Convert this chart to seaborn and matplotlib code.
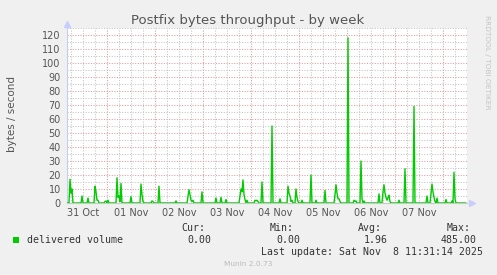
import numpy as np
import pandas as pd
import matplotlib
matplotlib.use("Agg")
import matplotlib.pyplot as plt
import matplotlib.dates as mdates
import seaborn as sns

# ---------------- data ----------------
spike_times = [
    "2025-10-31 05:30", "2025-10-31 06:00", "2025-10-31 06:30",
    "2025-10-31 11:30", "2025-10-31 14:30",
    "2025-10-31 18:00", "2025-10-31 18:30", "2025-10-31 19:00", "2025-10-31 19:30",
    "2025-10-31 23:00", "2025-10-31 23:30", "2025-11-01 00:30",
    "2025-11-01 05:00", "2025-11-01 05:30", "2025-11-01 06:00", "2025-11-01 06:30", "2025-11-01 07:00",
    "2025-11-01 12:00",
    "2025-11-01 17:00", "2025-11-01 17:30", "2025-11-01 18:00",
    "2025-11-01 22:30", "2025-11-01 23:00",
    "2025-11-02 02:00", "2025-11-02 10:30",
    "2025-11-02 16:30", "2025-11-02 17:00", "2025-11-02 17:30", "2025-11-02 18:00",
    "2025-11-02 18:30", "2025-11-02 19:00",
    "2025-11-02 23:30",
    "2025-11-03 06:30", "2025-11-03 09:00", "2025-11-03 11:30",
    "2025-11-03 18:30", "2025-11-03 19:00", "2025-11-03 19:30", "2025-11-03 20:00",
    "2025-11-03 20:30", "2025-11-03 21:00", "2025-11-03 22:00",
    "2025-11-04 02:00", "2025-11-04 02:30", "2025-11-04 03:00", "2025-11-04 03:30",
    "2025-11-04 05:30", "2025-11-04 10:30", "2025-11-04 14:30",
    "2025-11-04 18:30", "2025-11-04 19:00", "2025-11-04 19:30", "2025-11-04 20:00", "2025-11-04 20:30",
    "2025-11-04 22:30", "2025-11-04 23:00", "2025-11-04 23:30",
    "2025-11-05 01:30", "2025-11-05 06:00", "2025-11-05 08:30", "2025-11-05 13:00",
    "2025-11-05 18:00", "2025-11-05 18:30", "2025-11-05 19:00", "2025-11-05 19:30",
    "2025-11-05 20:00", "2025-11-05 20:30",
    "2025-11-06 00:30",
    "2025-11-06 03:30", "2025-11-06 04:00", "2025-11-06 04:30",
    "2025-11-06 07:00", "2025-11-06 07:30", "2025-11-06 08:30",
    "2025-11-06 16:00",
    "2025-11-06 18:00", "2025-11-06 18:30", "2025-11-06 19:00", "2025-11-06 19:30",
    "2025-11-06 20:00", "2025-11-06 20:30", "2025-11-06 21:00", "2025-11-06 21:30",
    "2025-11-07 02:00", "2025-11-07 05:00", "2025-11-07 09:30", "2025-11-07 16:00",
    "2025-11-07 18:00", "2025-11-07 18:30", "2025-11-07 19:00", "2025-11-07 19:30",
    "2025-11-07 20:00", "2025-11-07 21:00",
    "2025-11-08 01:30", "2025-11-08 04:30", "2025-11-08 05:30", "2025-11-08 06:00",
]
spike_values = [
    17, 7, 10,
    5, 3.5,
    12, 8, 2, 2,
    1, 1.5, 2,
    18, 4, 5, 1, 14,
    4.5,
    13.5, 6, 1,
    1.5, 1,
    12, 1.5,
    5, 9.5, 6, 2,
    1, 2,
    8,
    3.5, 4, 2.5,
    5, 10, 8, 16.5,
    6, 2.5, 2,
    2, 1.5, 2, 1,
    15, 55, 3,
    12, 7, 5, 1, 2,
    10, 4, 1,
    2, 20, 2, 9,
    6, 13, 7, 3,
    3, 1,
    118,
    2, 1, 1.5,
    30, 3, 1.5,
    6.5,
    8, 13, 7, 4,
    2, 4, 5.5, 1,
    2, 24.5, 69, 5,
    7, 13.5, 8, 4,
    1, 3.5,
    2.5, 1.5, 22, 3,
]
series_start = "2025-10-31 04:00"
series_end = "2025-11-08 11:30"
day_labels = ["31 Oct", "01 Nov", "02 Nov", "03 Nov", "04 Nov", "05 Nov", "06 Nov", "07 Nov"]
y_ticks = [0, 10, 20, 30, 40, 50, 60, 70, 80, 90, 100, 110, 120]

legend_name = "delivered volume"
stat_names = ["Cur:", "Min:", "Avg:", "Max:"]
stat_values = ["0.00", "0.00", "1.96", "485.00"]

# ---------------- build frame ----------------
idx = pd.date_range(series_start, series_end, freq="30min")
spikes = pd.Series(spike_values, index=pd.to_datetime(spike_times))
values = spikes.reindex(idx).fillna(0.0)
df = pd.DataFrame({"time": idx, "value": values.values})

# ---------------- figure ----------------
sns.set_style("white")
plt.rcParams["font.family"] = ["DejaVu Sans"]

W, H = 497, 275
fig = plt.figure(figsize=(W / 100, H / 100), dpi=100, facecolor="#F0F0F0")
L, T, PW, PH = 67, 28, 400, 175
ax = fig.add_axes([L / W, 1 - (T + PH) / H, PW / W, PH / H])
ax.set_facecolor("white")

x0 = pd.Timestamp("2025-10-31 04:00")
x1 = pd.Timestamp("2025-11-08 12:00")
ax.set_xlim(x0, x1)
ax.set_ylim(0, 125)

# grid lines
gray = "#c4c4c4"
red = "#e39a9a"
dots = (0, (1, 1.5))
for v in range(5, 126, 5):
    if v % 10 == 0:
        ax.axhline(v, color=red, lw=0.75, ls=dots, zorder=1)
    else:
        ax.axhline(v, color=gray, lw=0.75, ls=dots, zorder=1)
for t in pd.date_range("2025-10-31 06:00", "2025-11-08 12:00", freq="6h"):
    if t.hour == 0:
        ax.axvline(t, color=red, lw=0.75, ls=dots, zorder=1)
    else:
        ax.axvline(t, color=gray, lw=0.75, ls=dots, zorder=1)

sns.lineplot(data=df, x="time", y="value", ax=ax, color="#00CC00",
             linewidth=1.0, zorder=3)

# ticks
noons = [pd.Timestamp("2025-10-31 12:00") + pd.Timedelta(days=i) for i in range(len(day_labels))]
ax.set_xticks(noons)
ax.set_xticklabels(day_labels)
ax.set_yticks(y_ticks)
ax.set_yticklabels([str(v) for v in y_ticks])
ax.tick_params(axis="x", length=0, pad=3.5, labelsize=7, labelcolor="#555555")
ax.tick_params(axis="y", length=0, pad=4.5, labelsize=7, labelcolor="#555555")
midn = pd.date_range("2025-11-01", "2025-11-08", freq="D")
ax.set_xticks(midn, minor=True)
ax.tick_params(axis="x", which="minor", length=2.5, color="#ff6060", width=0.8, direction="out")
ax.set_xlabel("")
ax.set_ylabel("")

for s in ["top", "right"]:
    ax.spines[s].set_visible(False)
ax.spines["left"].set_color("#c8ccee")
ax.spines["bottom"].set_color("#c8c8c8")
ax.spines["left"].set_linewidth(0.8)
ax.spines["bottom"].set_linewidth(0.8)

# arrows
ax.plot([0], [1.0 + 4 / PH], marker="^", markersize=5, color="#c8ccff",
        transform=ax.transAxes, clip_on=False, zorder=5)
ax.plot([1.0 + 5 / PW], [0], marker=">", markersize=5, color="#c8ccff",
        transform=ax.transAxes, clip_on=False, zorder=5)

def px(x, y):
    return x / W, 1 - y / H

# title & labels
fig.text(*px(248, 24), "Postfix bytes throughput - by week", ha="center", va="baseline",
         fontsize=9.5, color="#555555")
fig.text(*px(12, 114), "bytes / second", rotation=90, ha="center", va="center",
         fontsize=7.5, color="#555555")
fig.text(*px(487, 15), "RRDTOOL / TOBI OETIKER", rotation=270, ha="center", va="top",
         fontsize=5.3, color="#c4c4c4")

mono = "DejaVu Sans Mono"
fig.patches.append(plt.Rectangle(px(13, 243), 6 / W, 6 / H, transform=fig.transFigure,
                                 facecolor="#00CC00", edgecolor="none"))
fig.text(*px(27, 240), legend_name, ha="left", va="center", family=mono,
         fontsize=7.1, color="#333333")
head_x = [205, 294, 382, 471]
val_x = [211, 300, 388, 477]
for n, hx in zip(stat_names, head_x):
    fig.text(*px(hx, 228), n, ha="right", va="center", family=mono, fontsize=7.1, color="#333333")
for v, vx in zip(stat_values, val_x):
    fig.text(*px(vx, 240), v, ha="right", va="center", family=mono, fontsize=7.1, color="#333333")
fig.text(*px(483, 252), "Last update: Sat Nov  8 11:31:14 2025", ha="right", va="center",
         family=mono, fontsize=7.1, color="#333333")
fig.text(*px(248, 264), "Munin 2.0.73", ha="center", va="center", fontsize=5.3, color="#bbbbbb")

fig.savefig("out.png", dpi=100, facecolor=fig.get_facecolor())
